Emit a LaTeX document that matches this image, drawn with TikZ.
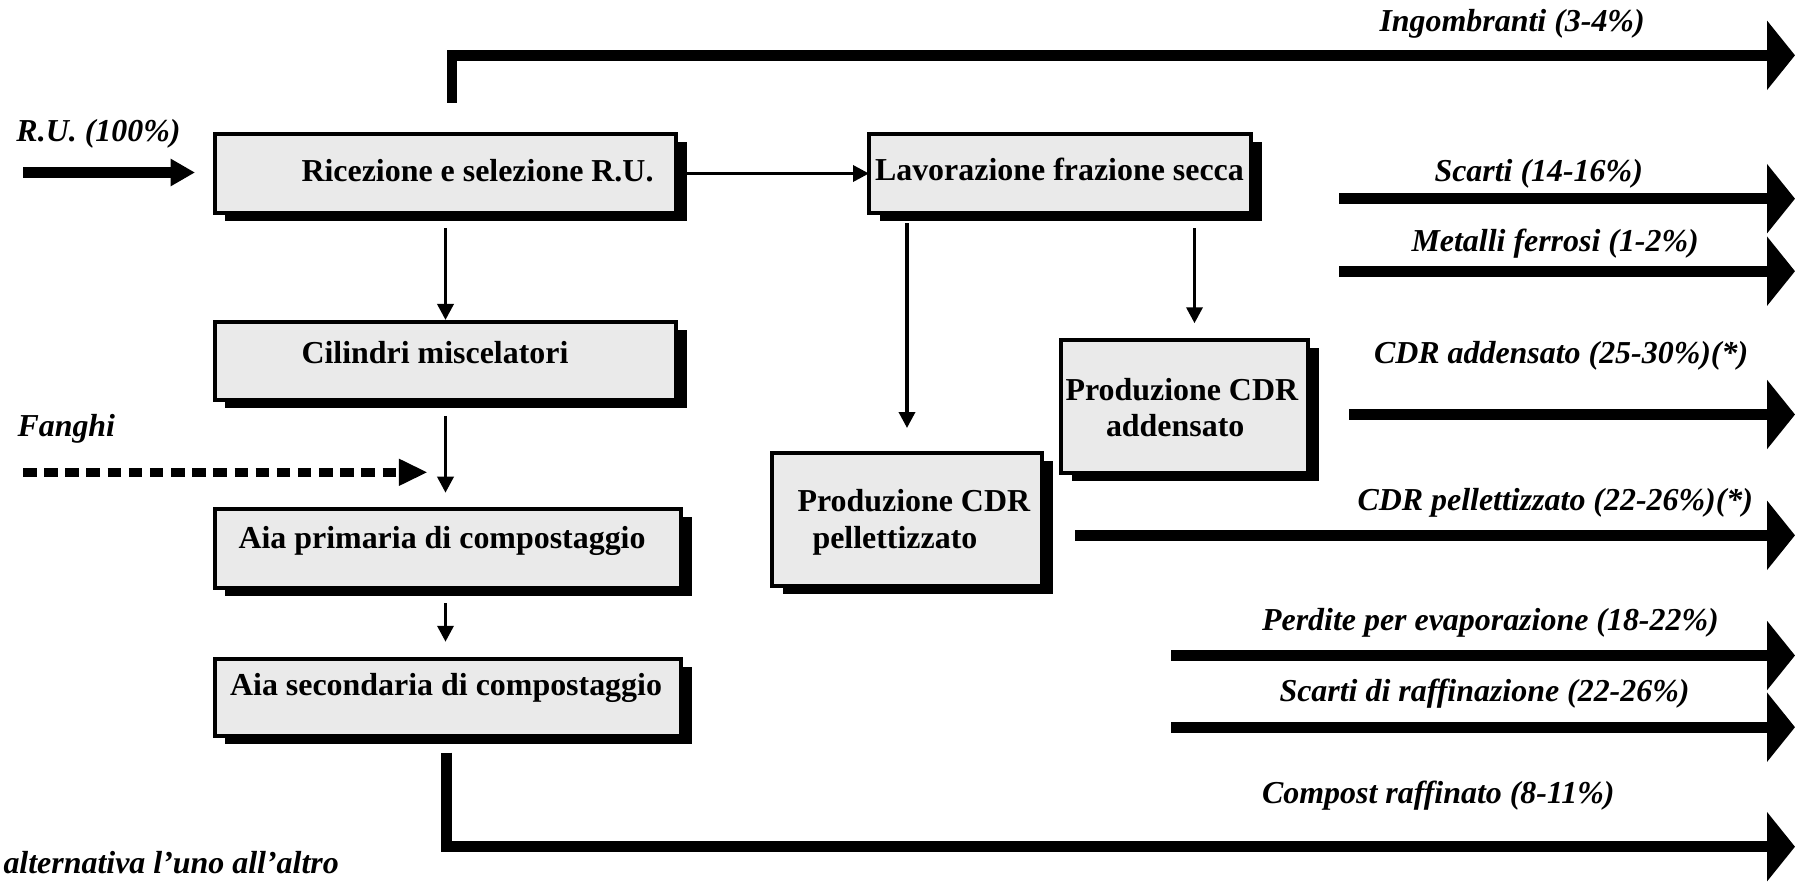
\documentclass[tikz,border=0pt]{standalone}
\usepackage{fontspec}
\setmainfont{Liberation Serif}
\usetikzlibrary{arrows.meta,shadows}
\definecolor{boxgray}{HTML}{EAEAEA}
\begin{document}
\begin{tikzpicture}[x=0.4pt,y=-0.4pt,
  box/.style={draw=black,line width=1.6pt,fill=boxgray,inner sep=0pt,outer sep=0pt,
    drop shadow={shadow xshift=4.2pt,shadow yshift=-3.2pt,fill=black,opacity=1}},
  txt/.style={inner sep=0pt,anchor=base west,font=\fontsize{12.77}{14.6}\selectfont\bfseries},
  lbl/.style={inner sep=0pt,anchor=base west,font=\fontsize{12.77}{14.6}\selectfont\bfseries\itshape},
  flowarr/.style={line width=1.4pt,-{Triangle[length=6.4pt,width=6.4pt]}},
  bigarr/.style={line width=4.28pt,-{Triangle[length=11.2pt,width=27.2pt]}},
  inarr/.style={line width=4.4pt,-{Triangle[length=9.8pt,width=10.4pt]}},
  dotarr/.style={line width=3.6pt,dash pattern=on 5.4pt off 3.06pt,-{Triangle[length=11.5pt,width=10pt]}}
]
\useasboundingbox (0,0) rectangle (1800,881);

% boxes
\node[box,minimum width=184.4pt,minimum height=31.6pt] (ric) at (445.5,173.5) {};
\node[box,minimum width=152.8pt,minimum height=31.6pt] (lav) at (1060,173.5) {};
\node[box,minimum width=184.4pt,minimum height=31.1pt] (cil) at (445.5,360.85) {};
\node[box,minimum width=186.4pt,minimum height=31.7pt] (aia1) at (448,548.35) {};
\node[box,minimum width=186.4pt,minimum height=30.8pt] (aia2) at (448,697.5) {};
\node[box,minimum width=108pt,minimum height=53.4pt] (pel) at (907,519.5) {};
\node[box,minimum width=98.8pt,minimum height=53.2pt] (add) at (1184.5,406.5) {};

% box texts
\node[txt] (ric-t) at (301,181.7) {Ricezione e selezione R.U.};
\node[txt] (lav-t) at (874.5,180) {Lavorazione frazione secca};
\node[txt] (cil-t) at (301,363.3) {Cilindri miscelatori};
\node[txt] (aia1-t) at (238,548) {Aia primaria di compostaggio};
\node[txt] (aia2-t) at (229.6,695) {Aia secondaria di compostaggio};
\node[txt] (pel-t1) at (797,511.7) {Produzione CDR};
\node[txt] (pel-t2) at (812,548.3) {pellettizzato};
\node[txt] (add-t1) at (1065,400) {Produzione CDR};
\node[txt] (add-t2) at (1105.5,436.7) {addensato};

% internal flow arrows
\coordinate (add-in) at ([xshift=4pt]add.north);
\draw[flowarr,shorten <=4pt] (ric.east) -- (lav.west);
\draw[flowarr,shorten <=6pt,shorten >=0.8pt] (ric.south) -- (cil.north);
\draw[flowarr,shorten <=6.5pt,shorten >=6.4pt] (cil.south) -- (cil.south |- aia1.north);
\draw[flowarr,shorten <=6.1pt,shorten >=6.9pt] (aia1.south -| cil.south) -- (aia2.north -| cil.south);
\draw[flowarr,shorten <=4pt,shorten >=9.9pt] (lav.south -| pel.north) -- (pel.north);
\draw[flowarr,shorten <=6pt,shorten >=6.7pt] (lav.south -| add-in) -- (add-in);

% inputs
\coordinate (ru-s) at (23,172.5);
\coordinate (ru-e) at (195,172.5);
\draw[inarr] (ru-s) -- (ru-e);
\node[lbl] (ru-l) at (16,141.7) {R.U. (100\%)};
\coordinate (fan-s) at (23,472.3);
\coordinate (fan-e) at (427.7,472.3);
\draw[dotarr] (fan-s) -- (fan-e);
\node[lbl] (fan-l) at (17,436.7) {Fanghi};

% outputs
\coordinate (ing-s) at (452,102.7);
\coordinate (ing-e) at (1795,55.3);
\draw[bigarr] (ing-s) |- (ing-e);
\node[lbl] (ing-l) at (1379,31.7) {Ingombranti (3-4\%)};

\coordinate (sc-s) at (1339,198.7);
\coordinate (sc-e) at (1795,198.7);
\draw[bigarr] (sc-s) -- (sc-e);
\node[lbl] (sc-l) at (1434,181.7) {Scarti (14-16\%)};

\coordinate (met-s) at (1339,271.2);
\coordinate (met-e) at (1795,271.2);
\draw[bigarr] (met-s) -- (met-e);
\node[lbl] (met-l) at (1411,251.7) {Metalli ferrosi (1-2\%)};

\coordinate (cda-s) at (1349,414.5);
\coordinate (cda-e) at (1795,414.5);
\draw[bigarr] (cda-s) -- (cda-e);
\node[lbl] (cda-l) at (1373.5,363.3) {CDR addensato (25-30\%)(*)};

\coordinate (cdp-s) at (1075,535.3);
\coordinate (cdp-e) at (1795,535.3);
\draw[bigarr] (cdp-s) -- (cdp-e);
\node[lbl] (cdp-l) at (1357,510) {CDR pellettizzato (22-26\%)(*)};

\coordinate (per-s) at (1171,655.5);
\coordinate (per-e) at (1795,655.5);
\draw[bigarr] (per-s) -- (per-e);
\node[lbl] (per-l) at (1261.6,630) {Perdite per evaporazione (18-22\%)};

\coordinate (raf-s) at (1171,727.2);
\coordinate (raf-e) at (1795,727.2);
\draw[bigarr] (raf-s) -- (raf-e);
\node[lbl] (raf-l) at (1279,701.7) {Scarti di raffinazione (22-26\%)};

\coordinate (com-s) at (446.4,752.7);
\coordinate (com-e) at (1795,846.7);
\draw[bigarr] (com-s) |- (com-e);
\node[lbl] (com-l) at (1261.6,803.3) {Compost raffinato (8-11\%)};

\node[lbl] (alt-l) at (3,873.3) {alternativa l’uno all’altro};
\end{tikzpicture}
\end{document}
